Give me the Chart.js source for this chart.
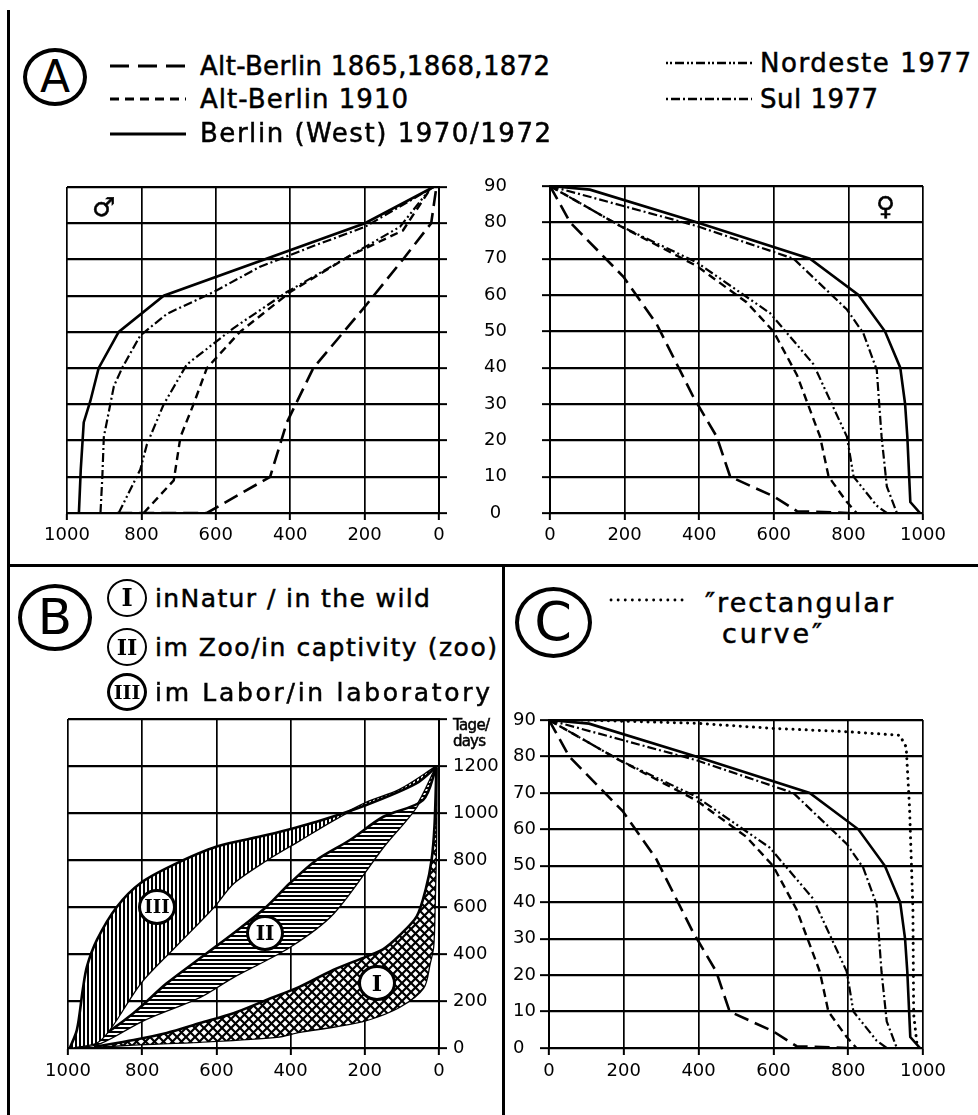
<!DOCTYPE html>
<html>
<head>
<meta charset="utf-8">
<script src="https://cdn.jsdelivr.net/npm/chart.js@4.4.1/dist/chart.umd.min.js"></script>
<style>
  html, body { margin: 0; padding: 0; background: #fff; }
  body { width: 978px; height: 1115px; position: relative; overflow: hidden; font-family: "DejaVu Sans", sans-serif; color: #000; }
  canvas { position: absolute; }
  .txt { position: absolute; white-space: nowrap; line-height: 1; transform: translateY(-50%); -webkit-text-stroke: 0.5px #000; }
  .ring { position: absolute; box-sizing: border-box; border: 4px solid #000; border-radius: 50%; background: #fff;
          display: flex; align-items: center; justify-content: center; line-height: 1; }
  .rule { position: absolute; background: #000; }
  svg { position: absolute; overflow: visible; }
</style>
</head>
<body>

<!-- frame -->
<div class="rule" style="left:7px;top:10px;width:3px;height:1105px"></div>
<div class="rule" style="left:7px;top:564px;width:971px;height:3px"></div>
<div class="rule" style="left:502px;top:565px;width:3px;height:550px"></div>

<!-- legend samples -->
<svg style="left:0;top:0" width="978" height="700">
  <line x1="110" y1="66" x2="186" y2="66" stroke="#000" stroke-width="3" stroke-dasharray="19 9"/>
  <line x1="110" y1="99" x2="186" y2="99" stroke="#000" stroke-width="3" stroke-dasharray="9 6"/>
  <line x1="110" y1="134" x2="186" y2="134" stroke="#000" stroke-width="3"/>
  <line x1="666" y1="63" x2="752" y2="63" stroke="#000" stroke-width="2.5" stroke-dasharray="2 2 2 3 9 3"/>
  <line x1="666" y1="99" x2="752" y2="99" stroke="#000" stroke-width="2.5" stroke-dasharray="2 3 9 3"/>
  <line x1="611" y1="600" x2="688" y2="600" stroke="#000" stroke-width="2.8" stroke-linecap="round" stroke-dasharray="0.1 7"/>
</svg>

<script>
// tick values shared by the axes
const survTicks = [0, 200, 400, 600, 800, 1000];
const ageTicks = [0, 10, 20, 30, 40, 50, 60, 70, 80, 90];
const dayTicks = [0, 200, 400, 600, 800, 1000, 1200, 1400];

// A, males: survivors (x) against age in years (y)
const mOld1865X = [865, 624, 454, 409, 338, 199, 97, 21, 7];
const mOld1865Age = [0, 0, 10, 25, 40, 57, 70, 80, 90];
const mOld1910X = [794, 713, 695, 660, 624, 535, 400, 240, 97, 20];
const mOld1910Age = [0, 9, 21, 30, 40, 50, 61, 71, 78, 90];
const mWestX = [968, 963, 955, 937, 915, 861, 740, 199, 15];
const mWestAge = [0, 12, 25, 31, 40, 50, 60, 80, 90];
const mNordX = [861, 803, 785, 740, 678, 553, 409, 257, 105, 20];
const mNordAge = [0, 12, 19, 30, 41, 51, 61, 70, 79, 90];
const mSulX = [910, 905, 901, 874, 852, 803, 731, 606, 481, 330, 199, 15];
const mSulAge = [0, 10, 21, 35, 40, 49, 55, 61, 68, 74, 79, 90];

// A and C, females
const fOld1865X = [0, 54, 197, 286, 384, 447, 483, 599, 662, 800];
const fOld1865Age = [90, 80, 65, 52, 32, 21, 10, 4.6, 0.5, 0];
const fOld1910X = [0, 188, 393, 527, 599, 662, 724, 747, 796, 822];
const fOld1910Age = [90, 79, 68, 58, 50, 38, 21, 10, 3, 0];
const fWestX = [0, 107, 393, 697, 827, 898, 939, 952, 958, 966, 992];
const fWestAge = [90, 89, 80, 70, 60, 50, 40, 30, 21, 3, 0];
const fNordX = [0, 188, 393, 590, 706, 796, 814, 876, 903];
const fNordAge = [90, 79, 69, 55, 41, 21, 10, 2, 0];
const fSulX = [0, 393, 653, 796, 840, 876, 889, 903, 930];
const fSulAge = [90, 79, 70, 56, 49.5, 39.4, 21, 7.3, 0];
const rectX = [0, 82, 394, 599, 795, 938, 955, 964, 973, 975, 985];
const rectAge = [90, 90, 89.1, 87.7, 86.8, 85.8, 82.6, 65.9, 38.1, 9.3, 0];

// B, survivors (x) against days (y): each band has an upper and a lower edge
const labUpperX = [995, 976, 960, 949, 922, 868, 805, 716, 599, 465, 330, 196, 61, 7];
const labUpperDays = [0, 77, 250, 346, 460, 601, 701, 779, 857, 906, 963, 1034, 1126, 1197];
const labLowerX = [995, 913, 805, 716, 608, 554, 465, 375, 285, 196, 106, 7];
const labLowerDays = [0, 34, 276, 424, 600, 702, 800, 885, 970, 1043, 1098, 1197];
const zooUpperX = [990, 913, 823, 734, 626, 554, 465, 402, 330, 240, 150, 43, 7];
const zooUpperDays = [0, 48, 149, 275, 403, 488, 601, 701, 800, 885, 984, 1055, 1195];
const zooLowerX = [990, 913, 796, 644, 554, 402, 285, 150, 61, 7];
const zooLowerDays = [0, 21, 119, 218, 303, 431, 573, 857, 1027, 1195];
const wildUpperX = [930, 823, 734, 644, 554, 465, 375, 285, 196, 151, 106, 60, 35, 20, 12, 7];
const wildUpperDays = [5, 34, 64, 106, 148, 204, 261, 332, 389, 420, 480, 560, 680, 800, 950, 1195];
const wildLowerX = [930, 823, 644, 437, 375, 285, 196, 106, 43, 25, 16, 12, 8, 7];
const wildLowerDays = [5, 15, 27, 48, 69, 91, 119, 176, 255, 362, 430, 600, 900, 1190];

const pts = (xs, ys) => xs.map((x, i) => ({ x: x, y: ys[i] }));

// line looks
const looks = {
  old1865: { w: 2.6, dash: [15, 7] },
  old1910: { w: 2.4, dash: [8, 5] },
  west: { w: 2.6, dash: [] },
  nord: { w: 2.2, dash: [9, 3, 2, 3, 2, 3] },
  sul: { w: 2.2, dash: [9, 3, 2, 3] },
  rect: { w: 3, dash: [0.1, 6.5] }
};

function curve(xs, ys, look, extra) {
  return Object.assign({
    data: pts(xs, ys),
    borderColor: '#000',
    borderWidth: look.w,
    borderDash: look.dash,
    borderCapStyle: look === looks.rect ? 'round' : 'butt',
    pointRadius: 0,
    fill: false,
    tension: 0
  }, extra || {});
}

function hatch(kind) {
  const c = document.createElement('canvas');
  const g = c.getContext('2d');
  if (kind === 'cross') {
    c.width = 9; c.height = 9;
    g.fillStyle = '#fff'; g.fillRect(0, 0, 9, 9);
    g.strokeStyle = '#000'; g.lineWidth = 2.2;
    g.beginPath();
    g.moveTo(-2, -2); g.lineTo(11, 11);
    g.moveTo(11, -2); g.lineTo(-2, 11);
    g.stroke();
  } else {
    c.width = 4; c.height = 4;
    g.fillStyle = '#fff'; g.fillRect(0, 0, 4, 4);
    g.fillStyle = '#000';
    if (kind === 'v') g.fillRect(0, 0, 2, 4); else g.fillRect(0, 0, 4, 2);
  }
  return g.createPattern(c, 'repeat');
}

function makeCanvas(id, x, y, w, h) {
  const cv = document.createElement('canvas');
  cv.id = id;
  cv.width = w; cv.height = h;
  cv.style.left = x + 'px'; cv.style.top = y + 'px';
  cv.style.width = w + 'px'; cv.style.height = h + 'px';
  document.body.appendChild(cv);
  return cv;
}

const tickFont = { family: 'DejaVu Sans', size: 18 };

// one axis with fixed tick values and a fixed box size
function axis(values, size, extra) {
  const o = {
    type: 'linear',
    min: values[0],
    max: values[values.length - 1],
    grid: { color: '#000', lineWidth: 2, tickLength: 8, tickColor: '#000', tickWidth: 2 },
    border: { color: '#000', width: 2 },
    ticks: { color: '#000', font: tickFont, padding: 5, maxRotation: 0, autoSkip: false,
             callback: v => String(v) },
    afterBuildTicks: s => { s.ticks = values.map(v => ({ value: v })); },
    afterFit: s => { if (s.isHorizontal()) s.height = size; else s.width = size; }
  };
  if (extra) {
    for (const k in extra) {
      if (k === 'grid' || k === 'ticks') Object.assign(o[k], extra[k]);
      else o[k] = extra[k];
    }
  }
  return o;
}

function baseOptions(padding, scales) {
  return {
    animation: false,
    responsive: false,
    events: [],
    layout: { padding: padding },
    plugins: { legend: { display: false }, tooltip: { enabled: false } },
    scales: scales
  };
}

// A, male
new Chart(makeCanvas('male', 20, 165, 442, 395), {
  type: 'line',
  data: { datasets: [
    curve(mOld1865X, mOld1865Age, looks.old1865),
    curve(mOld1910X, mOld1910Age, looks.old1910),
    curve(mNordX, mNordAge, looks.nord),
    curve(mSulX, mSulAge, looks.sul),
    curve(mWestX, mWestAge, looks.west)
  ] },
  options: baseOptions({ left: 47, top: 22, right: 0, bottom: 0 }, {
    x: axis(survTicks, 47, { reverse: true, grid: { tickLength: 7, lineWidth: 1.7 } }),
    y: axis(ageTicks, 23, { position: 'right', grid: { lineWidth: 2.3 }, ticks: { display: false } })
  })
});

// A, female
const femaleSets = () => [
  curve(fOld1865X, fOld1865Age, looks.old1865),
  curve(fOld1910X, fOld1910Age, looks.old1910),
  curve(fNordX, fNordAge, looks.nord),
  curve(fSulX, fSulAge, looks.sul),
  curve(fWestX, fWestAge, looks.west)
];

new Chart(makeCanvas('female', 470, 130, 492, 430), {
  type: 'line',
  data: { datasets: femaleSets() },
  options: baseOptions({ left: 0, top: 56, right: 39, bottom: 0 }, {
    x: axis(survTicks, 47, { grid: { tickLength: 7, lineWidth: 1.7 } }),
    y: axis(ageTicks, 80, { grid: { lineWidth: 2.3 }, ticks: { crossAlign: 'center', padding: 35 } })
  })
});

// B, bands
new Chart(makeCanvas('bands', 15, 695, 485, 405), {
  type: 'line',
  data: { datasets: [
    curve(labUpperX, labUpperDays, looks.west, { fill: '+1', backgroundColor: hatch('v'), tension: 0.3 }),
    curve(labLowerX, labLowerDays, looks.west, { tension: 0.3 }),
    curve(zooUpperX, zooUpperDays, looks.west, { fill: '+1', backgroundColor: hatch('h'), tension: 0.3 }),
    curve(zooLowerX, zooLowerDays, looks.west, { tension: 0.3 }),
    curve(wildUpperX, wildUpperDays, looks.west, { fill: '+1', backgroundColor: hatch('cross'), tension: 0.3 }),
    curve(wildLowerX, wildLowerDays, looks.west, { tension: 0.3 })
  ] },
  options: baseOptions({ left: 53, top: 24, right: 0, bottom: 0 }, {
    x: axis(survTicks, 52, { reverse: true, grid: { tickLength: 7, lineWidth: 1.7 }, ticks: { padding: 6 } }),
    y: axis(dayTicks, 61, { position: 'right', grid: { lineWidth: 2.3 },
      ticks: { padding: 6, crossAlign: 'near', callback: v => (v === 1400 ? '' : String(v)) } })
  })
});

// C, females with the rectangular curve
const cSets = femaleSets();
cSets.push(curve(rectX, rectAge, looks.rect));
new Chart(makeCanvas('rect', 506, 695, 464, 405), {
  type: 'line',
  data: { datasets: cSets },
  options: baseOptions({ left: 7, top: 25, right: 47, bottom: 0 }, {
    x: axis(survTicks, 52, { grid: { tickLength: 7, lineWidth: 1.7 }, ticks: { padding: 6 } }),
    y: axis(ageTicks, 36, { grid: { tickLength: 9, lineWidth: 2.3 }, ticks: { crossAlign: 'far' } })
  })
});

// texts
function place(text, x, cy, size, width, family) {
  const d = document.createElement('div');
  d.className = 'txt';
  d.textContent = text;
  d.style.left = x + 'px';
  d.style.top = cy + 'px';
  d.style.fontSize = size + 'px';
  if (family) d.style.fontFamily = family;
  document.body.appendChild(d);
  if (width && text.length > 1) {
    const cur = d.getBoundingClientRect().width;
    d.style.letterSpacing = ((width - cur) / (text.length - 1)) + 'px';
  }
  return d;
}

function ring(label, cx, cy, w, h, size, border, family, weight) {
  const d = document.createElement('div');
  d.className = 'ring';
  d.textContent = label;
  d.style.left = (cx - w / 2) + 'px';
  d.style.top = (cy - h / 2) + 'px';
  d.style.width = w + 'px';
  d.style.height = h + 'px';
  d.style.fontSize = size + 'px';
  d.style.borderWidth = border + 'px';
  if (family) d.style.fontFamily = family;
  d.style.fontWeight = weight || 'normal';
  document.body.appendChild(d);
}

ring('A', 55, 77, 64, 58, 44, 4);
place('Alt-Berlin 1865,1868,1872', 200, 66, 26, 350);
place('Alt-Berlin 1910', 200, 99, 26, 208);
place('Berlin (West) 1970/1972', 200, 133, 26, 351);
place('Nordeste 1977', 760, 63, 26, 211);
place('Sul 1977', 760, 99, 26, 118);
place('\u2642', 92, 207, 26);
place('\u2640', 876, 206, 26);

ring('B', 55, 617, 74, 67, 50, 4.5);
ring('I', 127, 598, 40, 38, 24, 2.5, 'DejaVu Serif', 'bold');
ring('II', 127, 647, 40, 38, 22, 2.5, 'DejaVu Serif', 'bold');
ring('III', 127, 692, 40, 38, 19, 3.5, 'DejaVu Serif', 'bold');
place('inNatur / in the wild', 155, 598, 25, 275);
place('im Zoo/in captivity (zoo)', 155, 647, 25, 342);
place('im Labor/in laboratory', 155, 692, 25, 335);
place('Tage/', 453, 725, 15, 37);
place('days', 453, 741, 15, 33);
ring('III', 157, 907, 38, 36, 18, 3, 'DejaVu Serif', 'bold');
ring('II', 265, 933, 38, 36, 20, 3, 'DejaVu Serif', 'bold');
ring('I', 377, 983, 38, 36, 22, 3, 'DejaVu Serif', 'bold');

ring('C', 553, 622, 77, 71, 54, 4.5);
place('\u2033rectangular', 705, 602, 27, 188);
place('curve\u2033', 722, 633, 27, 100);
</script>
</body>
</html>
